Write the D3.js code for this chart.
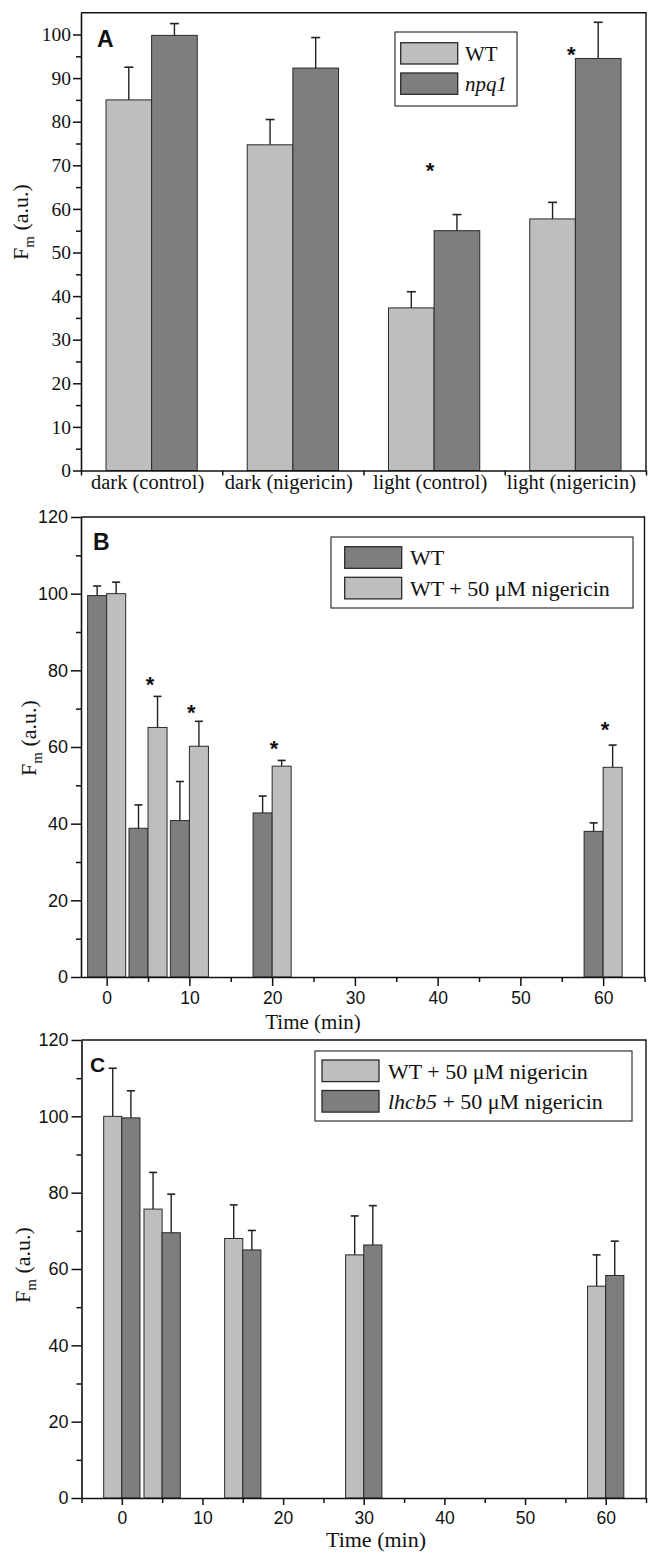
<!DOCTYPE html>
<html><head><meta charset="utf-8">
<script src="https://cdn.jsdelivr.net/npm/d3@7"></script>
<style>body{margin:0;background:#fff} svg{display:block}</style>
</head><body>
<svg id="chart" width="649" height="1554"></svg>
<script>
// ---------------- DATA ----------------
const categoriesA = ["dark (control)", "dark (nigericin)", "light (control)", "light (nigericin)"];
const seriesA = ["WT", "npq1"];
const wtA = [85, 74.7, 37.3, 57.7];
const wtAErr = [7.5, 5.8, 3.7, 3.8];
const npq1A = [99.8, 92.3, 55, 94.5];
const npq1AErr = [2.7, 7, 3.7, 8.3];
const starA = [null, null, 70, 96.5];
const yTicksA = [0, 10, 20, 30, 40, 50, 60, 70, 80, 90, 100];

const timesB = [0, 5, 10, 20, 60];
const seriesB = ["WT", "WT + 50 \u03BCM nigericin"];
const wtB = [99.5, 38.8, 40.8, 42.8, 38];
const wtBErr = [2.5, 6.1, 10.2, 4.4, 2.2];
const nigB = [100, 65.1, 60.2, 55, 54.7];
const nigBErr = [3, 8.1, 6.5, 1.5, 5.8];
const starB = [null, 77.6, 70.3, 61, 66];
const xTicksB = [0, 10, 20, 30, 40, 50, 60];
const yTicksB = [0, 20, 40, 60, 80, 100, 120];

const timesC = [0, 5, 15, 30, 60];
const seriesC = ["WT + 50 \u03BCM nigericin", "lhcb5 + 50 \u03BCM nigericin"];
const nigC = [100, 75.7, 68, 63.7, 55.5];
const nigCErr = [12.6, 9.6, 8.8, 10.2, 8.2];
const lhcbC = [99.6, 69.5, 65, 66.3, 58.3];
const lhcbCErr = [7.1, 10.1, 5.1, 10.3, 9];
const xTicksC = [0, 10, 20, 30, 40, 50, 60];
const yTicksC = [0, 20, 40, 60, 80, 100, 120];

// ---------------- STYLE ----------------
const LIGHT = "#bebebe", DARK = "#7e7e7e", STROKE = "#2a2a2a", INK = "#111";
const SERIF = "'Liberation Serif','Times New Roman',serif";
const SANS = "'Liberation Sans',Arial,sans-serif";
const svg = d3.select("#chart");

function styleAxis(g, font, size) {
  g.select(".domain").attr("stroke", INK).attr("stroke-width", 1.6);
  g.selectAll(".tick line").attr("stroke", INK).attr("stroke-width", 1.5);
  g.selectAll(".tick text").attr("font-family", font).attr("font-size", size).attr("fill", INK);
}
function frame(x0, x1, y0, y1) {
  svg.append("path").attr("d", `M${x0},${y0}H${x1}V${y1}`)
    .attr("fill", "none").attr("stroke", INK).attr("stroke-width", 1.4);
}
function errBar(g, cx, yTop, yEnd, cap) {
  g.append("line").attr("x1", cx).attr("x2", cx).attr("y1", yTop).attr("y2", yEnd)
    .attr("stroke", "#222").attr("stroke-width", 1.4);
  g.append("line").attr("x1", cx - cap / 2).attr("x2", cx + cap / 2).attr("y1", yEnd).attr("y2", yEnd)
    .attr("stroke", "#222").attr("stroke-width", 1.6);
}
function bar(g, x, w, y0, y, fill) {
  g.append("rect").attr("x", x).attr("y", y).attr("width", w).attr("height", y0 - y)
    .attr("fill", fill).attr("stroke", STROKE).attr("stroke-width", 1);
}
function star(x, y) {
  svg.append("text").attr("x", x).attr("y", y + 12.6).attr("text-anchor", "middle")
    .attr("font-family", SANS).attr("font-weight", "bold").attr("font-size", 22).attr("fill", INK).text("*");
}
function yTitle(x, y) {
  const t = svg.append("text").attr("transform", `translate(${x},${y}) rotate(-90)`)
    .attr("text-anchor", "middle").attr("font-family", SERIF).attr("font-size", 22).attr("fill", INK);
  t.append("tspan").text("F");
  t.append("tspan").attr("font-size", 15).attr("dy", 6).text("m");
  t.append("tspan").attr("dy", -6).text(" (a.u.)");
}
function panelLetter(x, y, s, size) {
  svg.append("text").attr("x", x).attr("y", y).attr("font-family", SANS).attr("font-weight", "bold")
    .attr("font-size", size).attr("fill", INK).text(s);
}
function legend(x, y, w, h, rows, swX, swW, swH, rowYs, textX, size) {
  svg.append("rect").attr("x", x).attr("y", y).attr("width", w).attr("height", h)
    .attr("fill", "#fff").attr("stroke", "#333").attr("stroke-width", 1.2);
  rows.forEach((r, i) => {
    svg.append("rect").attr("x", swX).attr("y", rowYs[i]).attr("width", swW).attr("height", swH)
      .attr("fill", r.fill).attr("stroke", STROKE).attr("stroke-width", 1.3);
    const t = svg.append("text").attr("x", textX).attr("y", rowYs[i] + swH / 2).attr("dy", "0.35em")
      .attr("font-family", SERIF).attr("font-size", size).attr("fill", INK);
    if (r.italic) {
      t.append("tspan").attr("font-style", "italic").text(r.italic);
      if (r.rest) t.append("tspan").text(r.rest);
    } else t.text(r.label);
  });
}

// ================= PANEL A =================
{
  const L = 81, R = 646, B = 470.5;
  const xA = d3.scaleBand().domain(categoriesA).range([L, R]);
  const bw = xA.bandwidth();
  const xA1 = d3.scaleBand().domain(seriesA).range([bw * 0.177, bw * 0.823]);
  const yA = d3.scaleLinear().domain([0, 105]).range([B, 12.7]);
  const g = svg.append("g");
  const vals = [wtA, npq1A], errs = [wtAErr, npq1AErr], fills = [LIGHT, DARK];
  seriesA.forEach((s, si) => {
    categoriesA.forEach((c, i) => {
      const x = xA(c) + xA1(s), w = xA1.bandwidth();
      bar(g, x, w, yA(0), yA(vals[si][i]), fills[si]);
      errBar(g, x + w / 2, yA(vals[si][i]), yA(vals[si][i] + errs[si][i]), 9);
    });
  });
  frame(L, R, yA(105), B);
  const ax = svg.append("g").attr("transform", `translate(${L},0)`)
    .call(d3.axisLeft(yA).tickValues(yTicksA).tickSize(8).tickSizeOuter(0).tickPadding(2));
  styleAxis(ax, SERIF, 19.5);
  const axm = svg.append("g").attr("transform", `translate(${L},0)`)
    .call(d3.axisLeft(yA).tickValues(yTicksA.slice(0, -1).map(v => v + 5)).tickSize(5).tickFormat(""));
  axm.select(".domain").remove(); styleAxis(axm, SERIF, 10);
  const xe = d3.scaleLinear().domain([0, categoriesA.length]).range([L, R]);
  const bx = svg.append("g").attr("transform", `translate(0,${B})`)
    .call(d3.axisBottom(xe).tickValues(d3.range(0, categoriesA.length + 1)).tickSize(5).tickSizeOuter(0).tickFormat(""));
  styleAxis(bx, SERIF, 10);
  const lx = svg.append("g").attr("transform", `translate(0,${B})`)
    .call(d3.axisBottom(xA).tickSize(0).tickPadding(3.5));
  lx.select(".domain").remove();
  styleAxis(lx, SERIF, 20.5);
  lx.selectAll(".tick text").attr("dx", -4);
  starA.forEach((v, i) => { if (v != null) star(xA(categoriesA[i]) + xA1("npq1") - 4, yA(v)); });
  legend(395, 32, 122, 74, [{ label: "WT", fill: LIGHT }, { italic: "npq1", fill: DARK }],
    400.7, 57, 21.3, [42.7, 73], 465, 21);
  panelLetter(97, 46.5, "A", 23);
  yTitle(28, 222);
}

// ================= PANEL B =================
{
  const L = 81, R = 644.5, B = 977, T = 517;
  const xB = d3.scaleLinear().domain([-3.1, 65]).range([L, R]);
  const yB = d3.scaleLinear().domain([0, 120]).range([B, T]);
  const w = 2.3;
  const g = svg.append("g");
  timesB.forEach((t, i) => {
    bar(g, xB(t - w), xB(t) - xB(t - w), yB(0), yB(wtB[i]), DARK);
    bar(g, xB(t), xB(t + w) - xB(t), yB(0), yB(nigB[i]), LIGHT);
    errBar(g, xB(t - w / 2), yB(wtB[i]), yB(wtB[i] + wtBErr[i]), 8);
    errBar(g, xB(t + w / 2), yB(nigB[i]), yB(nigB[i] + nigBErr[i]), 8);
    if (starB[i] != null) star(xB(t) + 2, yB(starB[i]));
  });
  frame(L, R, T, B);
  const ax = svg.append("g").attr("transform", `translate(${L},0)`)
    .call(d3.axisLeft(yB).tickValues(yTicksB).tickSize(10).tickSizeOuter(0).tickPadding(3));
  styleAxis(ax, SANS, 18);
  const axm = svg.append("g").attr("transform", `translate(${L},0)`)
    .call(d3.axisLeft(yB).tickValues(yTicksB.slice(0, -1).map(v => v + 10)).tickSize(5).tickFormat(""));
  axm.select(".domain").remove(); styleAxis(axm, SANS, 10);
  const bx = svg.append("g").attr("transform", `translate(0,${B})`)
    .call(d3.axisBottom(xB).tickValues(xTicksB).tickSize(9).tickSizeOuter(0).tickPadding(6));
  styleAxis(bx, SANS, 17.5);
  const bxm = svg.append("g").attr("transform", `translate(0,${B})`)
    .call(d3.axisBottom(xB).tickValues(xTicksB.map(v => v + 5)).tickSize(5).tickFormat(""));
  bxm.select(".domain").remove(); styleAxis(bxm, SANS, 10);
  svg.append("text").attr("x", 313).attr("y", 1029).attr("text-anchor", "middle")
    .attr("font-family", SERIF).attr("font-size", 21).attr("fill", INK).text("Time (min)");
  legend(331, 537, 302, 71, [{ label: seriesB[0], fill: DARK }, { label: seriesB[1], fill: LIGHT }],
    344.7, 57, 21.6, [546.7, 577.3], 410, 22);
  panelLetter(93, 549.5, "B", 23);
  yTitle(36, 738);
}

// ================= PANEL C =================
{
  const L = 81.5, R = 646, B = 1498, T = 1040;
  const xC = d3.scaleLinear().domain([-5, 65]).range([L, R]);
  const yC = d3.scaleLinear().domain([0, 120]).range([B, T]);
  const w = 2.25;
  const g = svg.append("g");
  timesC.forEach((t, i) => {
    bar(g, xC(t - w), xC(t) - xC(t - w), yC(0), yC(nigC[i]), LIGHT);
    bar(g, xC(t), xC(t + w) - xC(t), yC(0), yC(lhcbC[i]), DARK);
    errBar(g, xC(t - w / 2), yC(nigC[i]), yC(nigC[i] + nigCErr[i]), 8);
    errBar(g, xC(t + w / 2), yC(lhcbC[i]), yC(lhcbC[i] + lhcbCErr[i]), 8);
  });
  frame(L, R, T, B);
  const ax = svg.append("g").attr("transform", `translate(${L},0)`)
    .call(d3.axisLeft(yC).tickValues(yTicksC).tickSize(10).tickSizeOuter(0).tickPadding(3));
  styleAxis(ax, SANS, 18);
  const axm = svg.append("g").attr("transform", `translate(${L},0)`)
    .call(d3.axisLeft(yC).tickValues(yTicksC.slice(0, -1).map(v => v + 10)).tickSize(5).tickFormat(""));
  axm.select(".domain").remove(); styleAxis(axm, SANS, 10);
  const bx = svg.append("g").attr("transform", `translate(0,${B})`)
    .call(d3.axisBottom(xC).tickValues(xTicksC).tickSize(7).tickSizeOuter(0).tickPadding(7));
  styleAxis(bx, SANS, 17.5);
  const bxm = svg.append("g").attr("transform", `translate(0,${B})`)
    .call(d3.axisBottom(xC).tickValues([-5].concat(xTicksC.map(v => v + 5))).tickSize(5).tickFormat(""));
  bxm.select(".domain").remove(); styleAxis(bxm, SANS, 10);
  svg.append("text").attr("x", 376).attr("y", 1547).attr("text-anchor", "middle")
    .attr("font-family", SERIF).attr("font-size", 22).attr("fill", INK).text("Time (min)");
  legend(315, 1051, 317, 70,
    [{ label: seriesC[0], fill: LIGHT }, { italic: "lhcb5", rest: " + 50 \u03BCM nigericin", fill: DARK }],
    322, 57, 21.6, [1060, 1090.5], 388, 22);
  panelLetter(90, 1072, "C", 21);
  yTitle(30, 1265);
}
</script>
</body></html>
